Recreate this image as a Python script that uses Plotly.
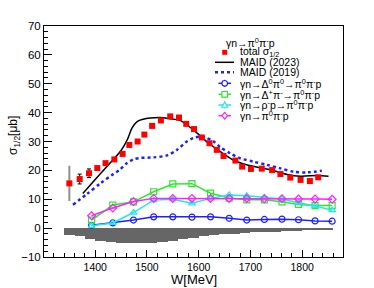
import plotly.graph_objects as go

# ---------------- data ----------------
W_tot = [1350, 1370, 1388, 1404, 1420, 1437, 1453, 1466, 1482, 1495, 1510, 1527, 1545, 1562, 1576,
         1591, 1606, 1621, 1635, 1648, 1671, 1684, 1701, 1722, 1742, 1758, 1777, 1797, 1815, 1831]
sig_tot = [15.5, 17.0, 19.0, 20.8, 22.5, 23.8, 25.7, 28.8, 30.0, 32.4, 35.4, 37.3, 38.7, 38.3, 36.1,
           34.3, 31.4, 29.4, 27.1, 25.0, 23.4, 21.3, 20.5, 20.6, 20.1, 18.75, 17.5, 16.7, 16.3, 17.6]
err_tot = [0.0, 1.7, 1.5, 0.5, 0.5, 0.5, 0.5, 0.5, 0.5, 0.5, 0.5, 0.5, 0.5, 0.5, 0.5,
           0.5, 0.5, 0.5, 0.5, 0.5, 0.5, 0.5, 0.5, 0.5, 0.5, 0.5, 0.5, 0.5, 0.5, 0.5]
W_first = [1350]
sig_first = [15.5]
err_first = [6.1]

W_m23 = [1376, 1400, 1430, 1450, 1462, 1471, 1481, 1493, 1506, 1525, 1545, 1564, 1577, 1597, 1620,
         1642, 1667, 1687, 1719, 1745, 1771, 1797, 1829, 1851]
sig_m23 = [12.0, 16.8, 22.8, 26.9, 30.6, 34.6, 36.9, 37.7, 38.1, 38.3, 37.9, 37.3, 35.8, 32.9, 29.3,
           26.5, 23.6, 22.2, 20.9, 19.9, 18.6, 18.0, 18.2, 18.0]

W_m19 = [1357, 1384, 1410, 1435, 1448, 1461, 1474, 1487, 1513, 1539, 1558, 1577, 1590, 1603, 1615,
         1629, 1642, 1661, 1680, 1706, 1732, 1758, 1784, 1810, 1838]
sig_m19 = [8.1, 11.8, 15.5, 18.7, 20.3, 22.5, 23.8, 24.3, 24.5, 25.2, 27.1, 30.0, 31.2, 31.7, 31.2,
           30.0, 28.0, 25.9, 24.2, 23.0, 21.9, 20.7, 19.5, 19.3, 19.9]

W_ch = [1393, 1434, 1474, 1513, 1550, 1587, 1623, 1659, 1693, 1727, 1761, 1793, 1825, 1858]
sig_D0pi0 = [1.0, 1.8, 2.8, 3.9, 3.9, 3.8, 3.9, 3.4, 2.8, 3.0, 3.1, 2.9, 2.5, 2.4]
sig_Dppim = [2.8, 8.0, 9.1, 12.6, 15.3, 15.4, 12.1, 10.4, 9.8, 9.8, 9.1, 8.2, 7.8, 7.8]
sig_rhop = [0.8, 1.8, 5.4, 9.7, 10.0, 8.6, 10.3, 11.5, 11.2, 10.6, 10.1, 8.8, 7.7, 6.2]
sig_pipip = [4.3, 7.0, 9.2, 10.3, 10.3, 10.3, 10.3, 10.3, 10.3, 10.2, 10.2, 10.1, 10.1, 10.0]

W_sys = [1350, 1370, 1390, 1410, 1430, 1450, 1470, 1490, 1510, 1530, 1550, 1570, 1590,
         1610, 1630, 1650, 1670, 1690, 1710, 1730, 1750, 1770, 1790, 1810, 1830, 1850]
sys_err = [-2.3, -2.8, -3.6, -4.3, -4.9, -5.2, -5.3, -5.3, -5.1, -4.7, -4.3, -3.9, -3.4,
           -2.8, -2.4, -2.1, -1.9, -1.7, -1.5, -1.3, -1.2, -1.0, -0.9, -0.7, -0.6, -0.5]

x_ticks = [1400, 1500, 1600, 1700, 1800]
y_ticks = [-10, 0, 10, 20, 30, 40, 50, 60, 70]

legend_header = "γn→π<sup>0</sup>π<sup>-</sup>p"
legend_labels = ["total σ<sub>1/2</sub>", "MAID (2023)", "MAID (2019)",
                 "γn→Δ<sup>0</sup>π<sup>0</sup>→π<sup>0</sup>π<sup>-</sup>p",
                 "γn→Δ<sup>+</sup>π<sup>-</sup>→π<sup>0</sup>π<sup>-</sup>p",
                 "γn→ρ<sup>-</sup>p→π<sup>0</sup>π<sup>-</sup>p",
                 "γn→π<sup>0</sup>π<sup>-</sup>p"]

# ---------------- colours ----------------
C_BLUE = "#2020ff"
C_GREEN = "#2ee82e"
C_CYAN = "#20e8e8"
C_MAG = "#ff20ff"
FONT = "Liberation Sans"

fig = go.Figure()

# systematic histogram
fig.add_trace(go.Bar(x=W_sys, y=sys_err, width=20, marker=dict(color="#666666", line=dict(width=0)),
                     showlegend=False))

# channel curves
for ys, col, sym in [(sig_D0pi0, C_BLUE, "circle-open"), (sig_Dppim, C_GREEN, "square-open"),
                     (sig_rhop, C_CYAN, "triangle-up-open"), (sig_pipip, C_MAG, "diamond-open")]:
    fig.add_trace(go.Scatter(x=W_ch, y=ys, mode="lines+markers",
                             line=dict(color=col, width=1.5),
                             marker=dict(symbol=sym, size=6, color=col, line=dict(width=1.2, color=col)),
                             showlegend=False))

# MAID curves
fig.add_trace(go.Scatter(x=W_m19, y=sig_m19, mode="lines", line=dict(color=C_BLUE, width=2.5, dash="dot",
                         shape="spline", smoothing=0.8), showlegend=False))
fig.add_trace(go.Scatter(x=W_m23, y=sig_m23, mode="lines", line=dict(color="black", width=1.5,
                         shape="spline", smoothing=0.8), showlegend=False))

# data
fig.add_trace(go.Scatter(x=W_first, y=sig_first, mode="markers", marker=dict(size=1, color="rgba(0,0,0,0)"),
                         error_y=dict(type="data", array=err_first, color="#909090", thickness=2, width=0),
                         showlegend=False))
fig.add_trace(go.Scatter(x=W_tot, y=sig_tot, mode="markers",
                         marker=dict(symbol="square", size=6, color="#ff0000"),
                         error_y=dict(type="data", array=err_tot, color="black", thickness=1, width=2),
                         showlegend=False))

# ---------------- layout ----------------
L, R, T, B = 44, 31, 26, 31
WID, HEI = 374, 288
PW, PH = WID - L - R, HEI - T - B


def px2x(px):
    return (px - L) / PW


def py2y(py):
    return (HEI - B - py) / PH


shapes = []
annotations = []

# legend header
annotations.append(dict(x=px2x(223.5), y=py2y(42.3), xref="paper", yref="paper", text=legend_header,
                        showarrow=False, xanchor="left", yanchor="middle",
                        font=dict(family=FONT, size=10.5, color="black")))
row_y = [52.3, 62.3, 72.3, 83.3, 94.3, 105.0, 115.7]
for lab, yy in zip(legend_labels, row_y):
    annotations.append(dict(x=px2x(238.0), y=py2y(yy), xref="paper", yref="paper", text=lab,
                            showarrow=False, xanchor="left", yanchor="middle",
                            font=dict(family=FONT, size=10.5, color="black")))

cx = 224.7
# red square
shapes.append(dict(type="rect", xref="paper", yref="paper", x0=px2x(cx - 2.5), x1=px2x(cx + 2.5),
                   y0=py2y(row_y[0] + 2.5), y1=py2y(row_y[0] - 2.5), fillcolor="#ff0000",
                   line=dict(width=0)))
# black line
shapes.append(dict(type="line", xref="paper", yref="paper", x0=px2x(215), x1=px2x(234),
                   y0=py2y(row_y[1]), y1=py2y(row_y[1]), line=dict(color="black", width=1.5)))
# blue dotted
shapes.append(dict(type="line", xref="paper", yref="paper", x0=px2x(215), x1=px2x(234),
                   y0=py2y(row_y[2]), y1=py2y(row_y[2]), line=dict(color=C_BLUE, width=2.5, dash="dot")))
# channel legend symbols
for col, kind, yy in [(C_BLUE, "circle", row_y[3]), (C_GREEN, "square", row_y[4]),
                      (C_CYAN, "tri", row_y[5]), (C_MAG, "diamond", row_y[6])]:
    shapes.append(dict(type="line", xref="paper", yref="paper", x0=px2x(218.5), x1=px2x(231),
                       y0=py2y(yy), y1=py2y(yy), line=dict(color=col, width=1.5)))
    shapes.append(dict(type="line", xref="paper", yref="paper", x0=px2x(cx), x1=px2x(cx),
                       y0=py2y(yy - 3.5), y1=py2y(yy + 3.5), line=dict(color=col, width=1)))
    r = 2.8
    if kind == "circle":
        shapes.append(dict(type="circle", xref="paper", yref="paper", x0=px2x(cx - r), x1=px2x(cx + r),
                           y0=py2y(yy + r), y1=py2y(yy - r), line=dict(color=col, width=1.2),
                           fillcolor="white"))
    elif kind == "square":
        shapes.append(dict(type="rect", xref="paper", yref="paper", x0=px2x(cx - r), x1=px2x(cx + r),
                           y0=py2y(yy + r), y1=py2y(yy - r), line=dict(color=col, width=1.2),
                           fillcolor="white"))
    elif kind == "tri":
        p = "M {} {} L {} {} L {} {} Z".format(px2x(cx - r), py2y(yy + r * 0.8), px2x(cx + r),
                                               py2y(yy + r * 0.8), px2x(cx), py2y(yy - r * 1.1))
        shapes.append(dict(type="path", xref="paper", yref="paper", path=p, line=dict(color=col, width=1.2),
                           fillcolor="white"))
    else:
        p = "M {} {} L {} {} L {} {} L {} {} Z".format(px2x(cx - r), py2y(yy), px2x(cx), py2y(yy - r * 1.2),
                                                        px2x(cx + r), py2y(yy), px2x(cx), py2y(yy + r * 1.2))
        shapes.append(dict(type="path", xref="paper", yref="paper", path=p, line=dict(color=col, width=1.2),
                           fillcolor="white"))

# axis titles
annotations.append(dict(x=0.5, y=py2y(279.5), xref="paper", yref="paper", text="W[MeV]", showarrow=False,
                        xanchor="center", yanchor="middle", font=dict(family=FONT, size=13, color="black")))
annotations.append(dict(x=px2x(14), y=py2y(136), xref="paper", yref="paper", text="σ<sub>1/2</sub>[μb]",
                        showarrow=False, textangle=-90, xanchor="center", yanchor="middle",
                        font=dict(family=FONT, size=12, color="black")))

fig.update_layout(
    width=WID, height=HEI, autosize=False,
    margin=dict(l=L, r=R, t=T, b=B, pad=0),
    paper_bgcolor="white", plot_bgcolor="white",
    showlegend=False, bargap=0,
    shapes=shapes, annotations=annotations,
    font=dict(family=FONT, color="black"),
)
fig.update_xaxes(range=[1301, 1879], tickvals=x_ticks, ticks="inside", ticklen=7, tickwidth=1,
                 tickcolor="black", showline=True, linecolor="black", linewidth=1, mirror=True,
                 showgrid=False, zeroline=False, tickfont=dict(family=FONT, size=10.5, color="black"),
                 minor=dict(dtick=20, tick0=1300, ticks="inside", ticklen=4, tickcolor="black", showgrid=False))
fig.update_yaxes(range=[-10, 70], tickvals=y_ticks, ticks="inside", ticklen=8, tickwidth=1,
                 tickcolor="black", showline=True, linecolor="black", linewidth=1, mirror=True,
                 showgrid=False, zeroline=False, tickfont=dict(family=FONT, size=11.5, color="black"),
                 minor=dict(dtick=2, tick0=0, ticks="inside", ticklen=4, tickcolor="black", showgrid=False))

fig.write_html("out.html", config={"displayModeBar": False},
               post_script="document.body.style.margin='0';")
